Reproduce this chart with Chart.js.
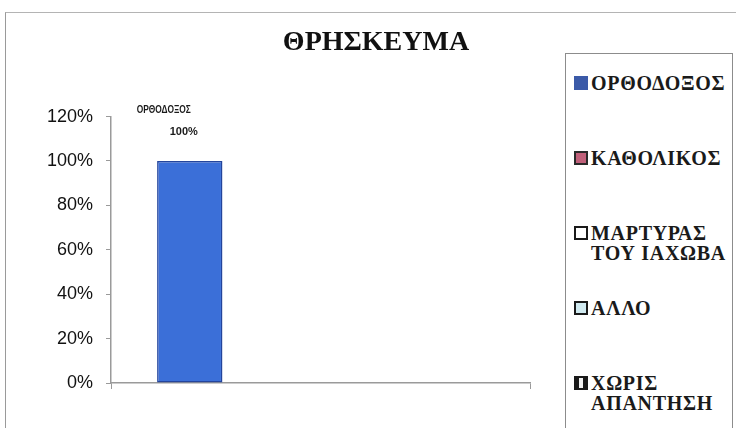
<!DOCTYPE html>
<html>
<head>
<meta charset="utf-8">
<script src="https://cdn.jsdelivr.net/npm/chart.js@4.4.0/dist/chart.umd.min.js"></script>
<style>
    body { margin: 0; background: #fff; }
    #wrap { position: relative; width: 736px; height: 428px; overflow: hidden; background: #fff; }
    #frame { position: absolute; left: 5px; top: 12px; width: 800px; height: 500px;
             border-left: 1.5px solid #9a9a9a; border-top: 1.5px solid #b4b4b4; }
    #chart { position: absolute; left: 0; top: 0; }
    #legend { position: absolute; left: 565px; top: 53px; width: 166px; height: 420px;
              border: 1.5px solid #8c8c8c; background: #fff;
              font-family: "Liberation Serif", Times, "Times New Roman", "DejaVu Serif", serif; font-weight: bold;
              font-size: 20px; letter-spacing: 0.7px; color: #1a1a1a; }
    .item { position: relative; height: 75px; box-sizing: border-box;
            padding: 19px 0 0 25px; line-height: 20px; }
    .item .box { position: absolute; left: 8px; top: 22px; width: 14px; height: 14px; box-sizing: border-box; }
</style>
</head>
<body>
<div id="wrap">
    <div id="frame"></div>
    <canvas id="chart" width="736" height="428"></canvas>
    <div id="legend"></div>
</div>
<script>
    // Δεδομένα
    const chartTitle = 'ΘΡΗΣΚΕΥΜΑ';
    const seriesNames = ['ΟΡΘΟΔΟΞΟΣ', 'ΚΑΘΟΛΙΚΟΣ', 'ΜΑΡΤΥΡΑΣ ΤΟΥ ΙΑΧΩΒΑ', 'ΑΛΛΟ', 'ΧΩΡΙΣ ΑΠΑΝΤΗΣΗ'];
    const seriesValues = [100, 0, 0, 0, 0];
    const yTicks = [0, 20, 40, 60, 80, 100, 120];

    const barColors = ['#3b6fd8', '#993366', '#ffffcc', '#ccffff', '#660066'];
    const barBorders = ['#24459c', '#5a1e3c', '#333333', '#333333', '#330033'];
    const legendFills = ['#3b5aa8', '#c0607a', '#ffffff', '#d0eaf0', '#f2f2f2'];
    const legendBorders = ['#3b5aa8', '#2a2a2a', '#1a1a1a', '#1a1a1a', '#1a1a1a'];
    const legendBorderWidths = ['0px', '2.5px', '2.5px', '2.5px', '2px 5px'];

    const serifFont = '"Liberation Serif", Times, "Times New Roman", "DejaVu Serif", serif';

    // Ετικέτες δεδομένων πάνω από τη στήλη
    const barLabels = {
        id: 'barLabels',
        afterDatasetsDraw(chart) {
            const ctx = chart.ctx;
            chart.data.datasets.forEach((ds, i) => {
                const meta = chart.getDatasetMeta(i);
                meta.data.forEach((bar, j) => {
                    const v = ds.data[j];
                    if (!v) return;
                    ctx.save();
                    ctx.fillStyle = '#1a1a1a';
                    ctx.textAlign = 'center';
                    ctx.textBaseline = 'middle';
                    // όνομα σειράς, στενά γράμματα όπως στο Excel
                    ctx.save();
                    ctx.translate(bar.x - 26, bar.y - 51);
                    ctx.scale(0.76, 1);
                    ctx.font = 'bold 11px "Liberation Sans", Arial, sans-serif';
                    ctx.fillText(ds.label, 0, 0);
                    ctx.restore();
                    ctx.font = 'bold 11px "Liberation Sans", Arial, sans-serif';
                    ctx.fillText(v + '%', bar.x - 6, bar.y - 29);
                    ctx.restore();
                });
            });
        }
    };

    const datasets = seriesNames.map((name, i) => ({
        label: name,
        data: [seriesValues[i]],
        backgroundColor: barColors[i],
        borderColor: barBorders[i],
        borderWidth: seriesValues[i] ? 1.5 : 0,
        borderSkipped: false,
        categoryPercentage: 0.78,
        barPercentage: 1
    }));

    const axisColor = '#9a9a9a';

    new Chart(document.getElementById('chart'), {
        type: 'bar',
        data: { labels: [''], datasets: datasets },
        options: {
            responsive: false,
            animation: false,
            layout: { padding: { left: 16, right: 0, top: 0, bottom: 39 } },
            plugins: {
                legend: { display: false },
                tooltip: { enabled: false },
                title: {
                    display: true,
                    text: chartTitle,
                    color: '#111',
                    font: { family: serifFont, size: 28, weight: 'bold', lineHeight: 1.2 },
                    padding: { top: 26, bottom: 57 }
                }
            },
            scales: {
                x: {
                    grid: { offset: true, drawOnChartArea: false, drawTicks: true, tickLength: 6, color: axisColor },
                    border: { color: axisColor, width: 1.5 },
                    ticks: { display: false }
                },
                y: {
                    min: yTicks[0],
                    max: yTicks[yTicks.length - 1],
                    afterBuildTicks: (scale) => { scale.ticks = yTicks.map(v => ({ value: v })); },
                    afterFit: (scale) => { scale.width = 95; },
                    grid: { drawOnChartArea: false, drawTicks: true, tickLength: 5, color: axisColor },
                    border: { color: axisColor, width: 1.5 },
                    ticks: {
                        padding: 13,
                        color: '#111',
                        font: { family: '"Liberation Sans", Arial, sans-serif', size: 18 },
                        callback: (v) => v + '%'
                    }
                },
                yRight: {
                    position: 'right',
                    display: true,
                    afterFit: (scale) => { scale.width = 206; },
                    grid: { display: false },
                    border: { display: false },
                    ticks: { display: false }
                }
            }
        },
        plugins: [barLabels]
    });

    // Υπόμνημα
    const legend = document.getElementById('legend');
    seriesNames.forEach((name, i) => {
        const item = document.createElement('div');
        item.className = 'item';
        const box = document.createElement('span');
        box.className = 'box';
        box.style.background = legendFills[i];
        box.style.borderStyle = 'solid';
        box.style.borderColor = legendBorders[i];
        box.style.borderWidth = legendBorderWidths[i];
        item.appendChild(box);
        item.appendChild(document.createTextNode(name));
        legend.appendChild(item);
    });
</script>
</body>
</html>
